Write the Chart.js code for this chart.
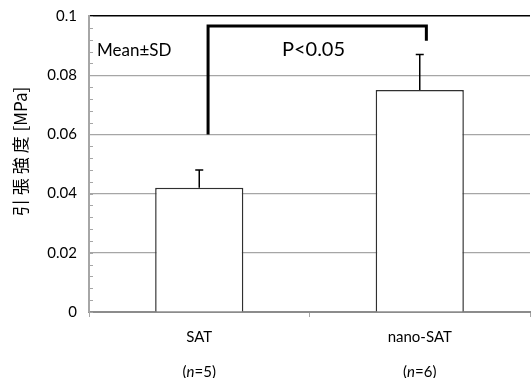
<!DOCTYPE html>
<html><head><meta charset="utf-8">
<script src="https://cdn.jsdelivr.net/npm/chart.js@4"></script>
<style>html,body{margin:0;padding:0;background:#fff}#wrap{width:531px;height:378px}</style>
</head><body><div id="wrap"><canvas id="c" width="531" height="378"></canvas></div>
<script>
const categories = ['SAT', 'nano-SAT'];
const nCounts = ['5', '6'];
const means = [0.042, 0.075];
const sds = [0.006, 0.012];
const yTickValues = [0, 0.02, 0.04, 0.06, 0.08, 0.1];
const yTickLabels = ['0', '0.02', '0.04', '0.06', '0.08', '0.1'];
const yMinorStep = 0.004;
const yTitleMain = '引張強度';
const yTitleUnit = ' [MPa]';
const statNote = 'Mean±SD';
const sigLabel = 'P<0.05';
// bracket: category positions of the two legs; values: left leg bottom, top, right leg bottom
const bracketX = [0.04, 1.03];
const bracketY = [0.06, 0.0966, 0.0916];

const FONT = 'Lato, "Open Sans", sans-serif';

const overlay = {
  id: 'overlay',
  afterDatasetsDraw(chart) {
    const ctx = chart.ctx, x = chart.scales.x, y = chart.scales.y;
    const meta = chart.getDatasetMeta(0);
    ctx.save();
    // error bars (upper only)
    ctx.strokeStyle = '#000'; ctx.lineWidth = 1.5;
    meta.data.forEach((bar, i) => {
      const yt = y.getPixelForValue(means[i] + sds[i]);
      const yb = y.getPixelForValue(means[i]);
      ctx.beginPath();
      ctx.moveTo(bar.x, yb); ctx.lineTo(bar.x, yt);
      ctx.moveTo(bar.x - 4, yt); ctx.lineTo(bar.x + 4, yt);
      ctx.stroke();
    });
    // bracket
    const xl = x.getPixelForValue(bracketX[0]), xr = x.getPixelForValue(bracketX[1]);
    ctx.lineWidth = 3; ctx.lineJoin = 'miter';
    ctx.beginPath();
    ctx.moveTo(xl, y.getPixelForValue(bracketY[0]));
    ctx.lineTo(xl, y.getPixelForValue(bracketY[1]));
    ctx.lineTo(xr, y.getPixelForValue(bracketY[1]));
    ctx.lineTo(xr, y.getPixelForValue(bracketY[2]));
    ctx.stroke();
    // texts
    ctx.fillStyle = '#000';
    ctx.textBaseline = 'middle';
    ctx.textAlign = 'center';
    ctx.font = '20px ' + FONT;
    ctx.fillText(sigLabel, (x.getPixelForValue(0) + x.getPixelForValue(1)) / 2 + 4, y.getPixelForValue(0.0885));
    ctx.textAlign = 'left';
    ctx.font = '17px ' + FONT;
    ctx.fillText(statNote, chart.chartArea.left + 8, y.getPixelForValue(0.0885));
    // minor ticks on y axis
    ctx.strokeStyle = '#a6a6a6'; ctx.lineWidth = 1;
    ctx.beginPath();
    for (let k = 0; k <= 25; k++) {
      const py = Math.round(y.getPixelForValue(k * yMinorStep)) + 0.5;
      ctx.moveTo(chart.chartArea.left, py); ctx.lineTo(chart.chartArea.left + 4, py);
    }
    ctx.stroke();
    // n labels
    ctx.textBaseline = 'middle';
    categories.forEach((c, i) => {
      const cx = x.getPixelForValue(i);
      const parts = [['(', ''], ['n', 'italic '], ['=' + nCounts[i] + ')', '']];
      let w = 0;
      parts.forEach(p => { ctx.font = p[1] + '15px ' + FONT; w += ctx.measureText(p[0]).width; });
      let px = cx - w / 2;
      ctx.textAlign = 'left';
      parts.forEach(p => { ctx.font = p[1] + '15px ' + FONT; ctx.fillText(p[0], px, 372); px += ctx.measureText(p[0]).width; });
    });
    // y title
    ctx.save();
    ctx.translate(21, 150);
    ctx.rotate(-Math.PI / 2);
    ctx.font = '17px "Noto Sans CJK JP", sans-serif';
    ctx.textAlign = 'left';
    ctx.letterSpacing = '4px';
    const w1 = ctx.measureText(yTitleMain).width;
    ctx.letterSpacing = '0px';
    const w2 = ctx.measureText(yTitleUnit).width;
    let sx = -(w1 + w2) / 2;
    ctx.letterSpacing = '4px';
    ctx.fillText(yTitleMain, sx, 0);
    ctx.letterSpacing = '0px';
    ctx.fillText(yTitleUnit, sx + w1 - 3, 0);
    ctx.restore();
    ctx.restore();
  }
};

new Chart(document.getElementById('c'), {
  type: 'bar',
  data: {
    labels: categories,
    datasets: [{
      data: means,
      backgroundColor: '#ffffff',
      borderColor: '#303030',
      borderWidth: 1.5,
      barPercentage: 0.4,
      categoryPercentage: 1
    }]
  },
  options: {
    responsive: false,
    animation: false,
    devicePixelRatio: 1,
    layout: { padding: { top: 16, right: 1, left: 0, bottom: 0 } },
    plugins: { legend: { display: false }, tooltip: { enabled: false } },
    scales: {
      x: {
        afterFit(s) { s.height = 66; s.paddingLeft = 0; s.paddingRight = 0; },
        grid: { display: true, drawOnChartArea: false, offset: true, tickLength: 5, color: '#a6a6a6' },
        border: { color: '#8c8c8c', width: 2 },
        ticks: { color: '#000', font: { family: FONT, size: 15 }, padding: 11 }
      },
      y: {
        min: 0, max: 0.1,
        afterFit(s) { s.width = 89; s.paddingTop = 0; s.paddingBottom = 0; },
        afterBuildTicks(s) { s.ticks = yTickValues.map(v => ({ value: v })); },
        grid: {
          drawTicks: false,
          color: ctx => ctx.tick && ctx.tick.value >= 0.1 ? '#000' : '#a6a6a6',
          lineWidth: ctx => ctx.tick && ctx.tick.value >= 0.1 ? 1.5 : 1.2
        },
        border: { color: '#a6a6a6', width: 2 },
        ticks: {
          color: '#000', font: { family: FONT, size: 15 }, padding: 12,
          callback: (v, i) => yTickLabels[i]
        }
      }
    }
  },
  plugins: [overlay]
});
</script></body></html>
